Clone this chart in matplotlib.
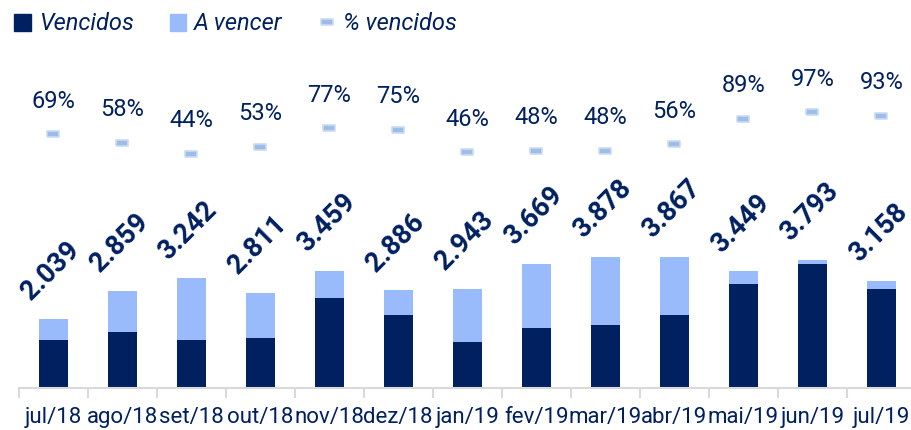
import matplotlib
matplotlib.use("Agg")
import matplotlib.pyplot as plt
from matplotlib.patches import Patch
from matplotlib.lines import Line2D
import numpy as np

# Data
meses = ["jul/18", "ago/18", "set/18", "out/18", "nov/18", "dez/18", "jan/19",
         "fev/19", "mar/19", "abr/19", "mai/19", "jun/19", "jul/19"]
totais = [2039, 2859, 3242, 2811, 3459, 2886, 2943, 3669, 3878, 3867, 3449, 3793, 3158]
vencidos = [1407, 1658, 1426, 1490, 2663, 2165, 1354, 1761, 1861, 2166, 3070, 3679, 2937]
a_vencer = [632, 1201, 1816, 1321, 796, 721, 1589, 1908, 2017, 1701, 379, 114, 221]
pct_vencidos = [69, 58, 44, 53, 77, 75, 46, 48, 48, 56, 89, 97, 93]

NAVY = "#002060"
LIGHT = "#99BBFC"
MARK_FACE = "#9DBDE6"
MARK_EDGE = "#CADCF2"
AXIS_GRAY = "#D9D9D9"

plt.rcParams["font.family"] = ["Roboto", "DejaVu Sans"]

fig = plt.figure(figsize=(9.11, 4.30), dpi=100)
W, H = 911, 430
# plot area in pixels: x 18.5..916, y 50..388 (from top)
ax = fig.add_axes([18.5 / W, (H - 388) / H, 897.5 / W, 338 / H])
ax2 = ax.twinx()

x = np.arange(len(meses))
ax.bar(x, vencidos, width=0.42, color=NAVY, zorder=2)
ax.bar(x, a_vencer, width=0.42, bottom=vencidos, color=LIGHT, zorder=2)

ax.set_xlim(-0.5, len(meses) - 0.5)
ax.set_ylim(0, 10000)

# total labels, rotated
for i, t in enumerate(totais):
    ax.annotate(f"{t:,}".replace(",", "."), xy=(i, t), xytext=(-3, 48),
                textcoords="offset pixels", ha="center", va="center",
                rotation=45, rotation_mode="anchor", fontsize=19.5,
                fontweight="bold", color=NAVY)

# % vencidos markers on secondary axis
rect = [(-1, -0.5), (1, -0.5), (1, 0.5), (-1, 0.5), (-1, -0.5)]
ax2.plot(x, pct_vencidos, linestyle="none", marker=rect, markersize=9,
         markerfacecolor=MARK_FACE, markeredgecolor=MARK_EDGE,
         markeredgewidth=1.2, zorder=3)
ax2.set_ylim(-256, 177)
for i, p in enumerate(pct_vencidos):
    ax2.annotate(f"{p}%", xy=(i, p), xytext=(0, 33), textcoords="offset pixels",
                 ha="center", va="center", fontsize=17, color=NAVY)

# axes styling
for a in (ax, ax2):
    for side in ("top", "right", "left"):
        a.spines[side].set_visible(False)
    a.set_yticks([])
ax2.spines["bottom"].set_visible(False)
ax.spines["bottom"].set_color(AXIS_GRAY)
ax.spines["bottom"].set_linewidth(1.5)

ax.set_xticks(x)
ax.set_xticklabels(meses, fontsize=16, color=NAVY)
ax.set_xticks(np.arange(-0.5, len(meses)), minor=True)
ax.tick_params(axis="x", which="major", length=0, pad=14)
ax.tick_params(axis="x", which="minor", length=7, width=1.5, color=AXIS_GRAY)

# legend
handles = [
    Patch(facecolor=NAVY, edgecolor=NAVY),
    Patch(facecolor=LIGHT, edgecolor=LIGHT),
    Line2D([], [], linestyle="none", marker=rect, markersize=9,
           markerfacecolor=MARK_FACE, markeredgecolor=MARK_EDGE, markeredgewidth=1.2),
]
leg = fig.legend(handles, ["Vencidos", "A vencer", "% vencidos"], ncol=3,
                 loc="center left", bbox_to_anchor=(5 / W, 1 - 24 / H),
                 frameon=False, prop={"size": 17, "style": "italic"},
                 handlelength=0.7, handleheight=0.7, handletextpad=0.35,
                 columnspacing=1.5, borderaxespad=0)
for txt in leg.get_texts():
    txt.set_color(NAVY)

fig.savefig("out.png", dpi=100)
